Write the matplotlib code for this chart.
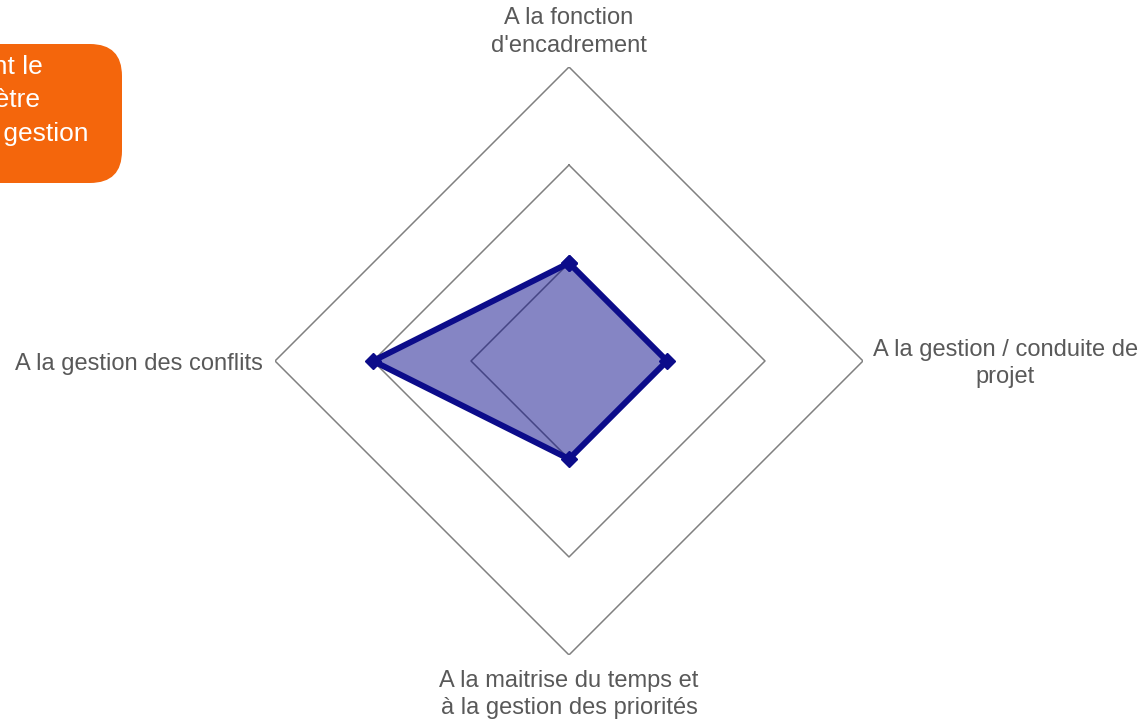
import numpy as np
import matplotlib.pyplot as plt
from matplotlib.patches import FancyBboxPatch

plt.rcParams['font.family'] = ['Liberation Sans', 'DejaVu Sans']

# Données
axes_labels = ["A la fonction\nd'encadrement",
               "A la gestion / conduite de\nprojet",
               "A la maitrise du temps et\nà la gestion des priorités",
               "A la gestion des conflits"]
valeurs = [1, 1, 1, 2]
niveaux = [1, 2, 3]
encart_lignes = ["concernant le", "du périmètre", "de la bonne gestion"]

gris = '#808080'
bleu = '#0C0C8A'
texte = '#595959'

fig = plt.figure(figsize=(11.45, 7.2), dpi=100)
ax = fig.add_axes([0.2402, 0.0903, 0.5135, 0.8167], projection='polar')
ax.set_theta_offset(np.pi / 2)
ax.set_theta_direction(-1)

angles = np.linspace(0, 2 * np.pi, len(axes_labels), endpoint=False)
angles_ferme = np.append(angles, angles[0])

# anneaux en losange
for r in niveaux:
    ax.plot(angles_ferme, [r] * len(angles_ferme), color=gris, lw=1.1, zorder=1)

vals = np.append(valeurs, valeurs[0])
ax.fill(angles_ferme, vals, color=bleu, alpha=0.5, zorder=2, lw=0)
ax.plot(angles_ferme, vals, color=bleu, lw=4.3, marker='D', markersize=8,
        zorder=3, solid_joinstyle='miter')

ax.set_ylim(0, max(niveaux))
ax.set_xticks([])
ax.set_yticks([])
ax.grid(False)
ax.spines['polar'].set_visible(False)
ax.patch.set_alpha(0)

# étiquettes des axes
positions = [((0, 7.5), 'center', 'bottom'),
             ((7, -2), 'left', 'center'),
             ((0, -11), 'center', 'top'),
             ((-9, -2), 'right', 'center')]
for ang, lab, (off, ha, va) in zip(angles, axes_labels, positions):
    ax.annotate(lab, xy=(ang, max(niveaux)), xytext=off, textcoords='offset points',
                ha=ha, va=va, multialignment='center', fontsize=17, color=texte,
                linespacing=1.3, annotation_clip=False)

# encart orange (coupé à gauche)
W, H = 1145, 720
boite = FancyBboxPatch((-60 / W, 537 / H), 182 / W, 139 / H,
                       boxstyle='round,pad=0,rounding_size=0.028',
                       transform=fig.transFigure, facecolor='#F4660C',
                       edgecolor='none', mutation_aspect=W / H)
fig.patches.append(boite)
fins_x = [43, 40, 89]
centres_y = [64, 98, 132]
for lig, xe, yc in zip(encart_lignes, fins_x, centres_y):
    t = fig.text(xe / W, 1 - yc / H, lig, ha='right', va='center_baseline',
                 color='white', fontsize=19)
    t.set_clip_path(boite)

fig.savefig('out.png', dpi=100)
